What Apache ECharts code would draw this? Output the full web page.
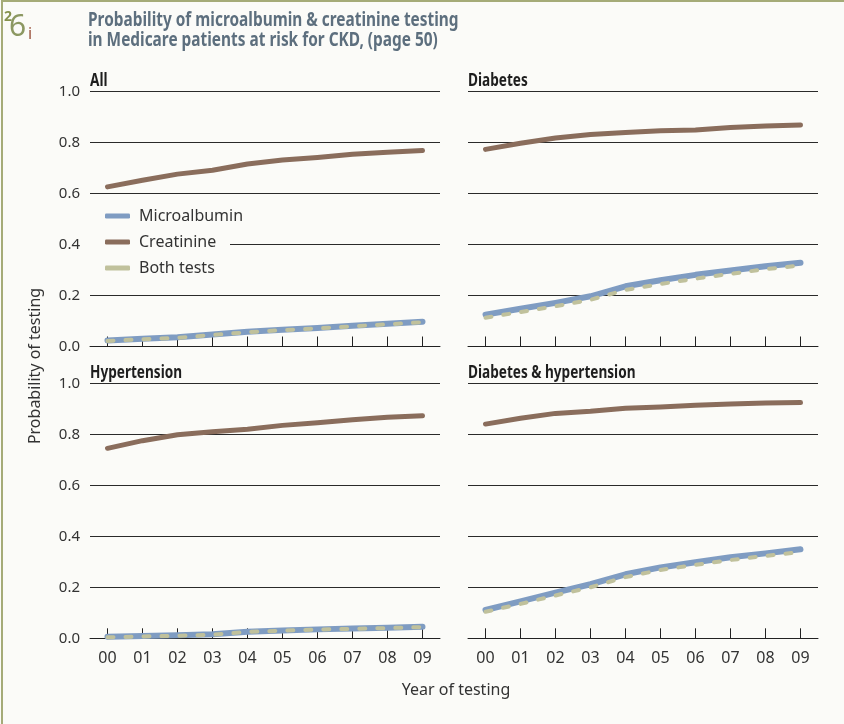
<!DOCTYPE html>
<html>
<head>
<meta charset="utf-8">
<script src="https://cdn.jsdelivr.net/npm/echarts@6/dist/echarts.min.js"></script>
<style>
  html, body { margin: 0; padding: 0; background: #fbfbf8; }
  #chart { width: 844px; height: 724px; }
</style>
</head>
<body>
<div id="chart"></div>
<script>
// Years of testing (2000-2009)
const years = ['00', '01', '02', '03', '04', '05', '06', '07', '08', '09'];

// Panel: All
const allMicro = [0.024, 0.030, 0.036, 0.047, 0.058, 0.066, 0.073, 0.081, 0.089, 0.097];
const allCreat = [0.626, 0.652, 0.676, 0.691, 0.716, 0.731, 0.741, 0.754, 0.762, 0.769];
const allBoth  = [0.022, 0.028, 0.034, 0.045, 0.056, 0.064, 0.071, 0.079, 0.087, 0.095];

// Panel: Diabetes
const diabMicro = [0.125, 0.148, 0.171, 0.197, 0.236, 0.260, 0.281, 0.298, 0.315, 0.328];
const diabCreat = [0.773, 0.797, 0.818, 0.831, 0.839, 0.846, 0.849, 0.859, 0.865, 0.869];
const diabBoth  = [0.113, 0.135, 0.158, 0.183, 0.222, 0.245, 0.266, 0.285, 0.303, 0.318];

// Panel: Hypertension
const htnMicro = [0.006, 0.009, 0.012, 0.016, 0.026, 0.031, 0.035, 0.038, 0.041, 0.045];
const htnCreat = [0.745, 0.775, 0.798, 0.810, 0.820, 0.835, 0.845, 0.857, 0.867, 0.873];
const htnBoth  = [0.004, 0.007, 0.010, 0.014, 0.025, 0.030, 0.034, 0.037, 0.040, 0.044];

// Panel: Diabetes & hypertension
const dhMicro = [0.111, 0.145, 0.179, 0.212, 0.251, 0.278, 0.298, 0.318, 0.333, 0.349];
const dhCreat = [0.840, 0.863, 0.882, 0.890, 0.902, 0.907, 0.914, 0.919, 0.923, 0.925];
const dhBoth  = [0.104, 0.135, 0.168, 0.200, 0.240, 0.268, 0.288, 0.307, 0.323, 0.338];

const panelTitles = ['All', 'Diabetes', 'Hypertension', 'Diabetes & hypertension'];
const seriesNames = ['Microalbumin', 'Creatinine', 'Both tests'];

const panels = [
  { micro: allMicro,  creat: allCreat,  both: allBoth },
  { micro: diabMicro, creat: diabCreat, both: diabBoth },
  { micro: htnMicro,  creat: htnCreat,  both: htnBoth },
  { micro: dhMicro,   creat: dhCreat,   both: dhBoth }
];

const BG = '#fbfbf8';
const BLUE = '#7f9cc2';
const BROWN = '#8a6d5c';
const KHAKI = '#c0c19c';
const OLIVE = '#a5ab78';
const BODY_FONT = '"Noto Sans", "Open Sans", sans-serif';

const gridBoxes = [
  { left: 90,  top: 91.5,  width: 350, height: 255 },
  { left: 468, top: 91.5,  width: 350, height: 255 },
  { left: 90,  top: 383.3, width: 350, height: 255 },
  { left: 468, top: 383.3, width: 350, height: 255 }
];

const grid = gridBoxes.map(g => Object.assign({ containLabel: false }, g));

const xAxis = gridBoxes.map((g, i) => ({
  type: 'category',
  gridIndex: i,
  data: years,
  boundaryGap: true,
  axisLine: { show: true, onZero: false, lineStyle: { color: '#222', width: 1 } },
  axisTick: { show: true, inside: true, length: 10, alignWithLabel: true, lineStyle: { color: '#222', width: 1 } },
  axisLabel: {
    show: i >= 2,
    margin: 12,
    fontFamily: BODY_FONT,
    fontSize: 16,
    color: '#333'
  },
  splitLine: { show: false }
}));

const yAxis = gridBoxes.map((g, i) => ({
  type: 'value',
  gridIndex: i,
  min: 0,
  max: 1,
  interval: 0.2,
  axisLine: { show: false },
  axisTick: { show: false },
  axisLabel: {
    show: i % 2 === 0,
    margin: 10,
    fontFamily: BODY_FONT,
    fontSize: 15,
    color: '#333',
    formatter: v => v.toFixed(1)
  },
  splitLine: { show: true, lineStyle: { color: '#2a2a2a', width: 1 } }
}));

const series = [];
panels.forEach((p, i) => {
  series.push({
    name: seriesNames[0], type: 'line', xAxisIndex: i, yAxisIndex: i,
    data: p.micro, symbol: 'none', color: BLUE, z: 3,
    lineStyle: { color: BLUE, width: 6, cap: 'round', join: 'round' }
  });
  series.push({
    name: seriesNames[1], type: 'line', xAxisIndex: i, yAxisIndex: i,
    data: p.creat, symbol: 'none', color: BROWN, z: 3,
    lineStyle: { color: BROWN, width: 5, cap: 'round', join: 'round' }
  });
  series.push({
    name: seriesNames[2], type: 'line', xAxisIndex: i, yAxisIndex: i,
    data: p.both, symbol: 'none', color: KHAKI, z: 4,
    lineStyle: { color: KHAKI, width: 4, type: [6, 12], cap: 'round', join: 'round' }
  });
});

// Panel headings: bold, horizontally condensed, sitting just above the top gridline
const panelTitleGraphics = panelTitles.map((t, i) => ({
  type: 'text',
  x: gridBoxes[i].left,
  y: gridBoxes[i].top - 2,
  scaleX: 0.8,
  style: { text: t, font: 'bold 17px ' + BODY_FONT, fill: '#1e1e1e', verticalAlign: 'bottom' },
  z: 10
}));

const option = {
  backgroundColor: BG,
  animation: false,
  grid: grid,
  xAxis: xAxis,
  yAxis: yAxis,
  legend: {
    orient: 'vertical',
    left: 95,
    top: 202,
    padding: [6, 10, 6, 10],
    itemWidth: 25,
    itemHeight: 5,
    itemGap: 10,
    icon: 'roundRect',
    data: seriesNames,
    textStyle: { fontFamily: BODY_FONT, fontSize: 16, color: '#333', padding: [0, 0, 0, 4] },
    selectedMode: false
  },
  series: series,
  graphic: [
    // frame lines along the top and left edge
    { type: 'line', shape: { x1: 2, y1: 1, x2: 844, y2: 1 }, style: { stroke: OLIVE, lineWidth: 2 }, silent: true },
    { type: 'line', shape: { x1: 2, y1: 0, x2: 2, y2: 724 }, style: { stroke: OLIVE, lineWidth: 2 }, silent: true },
    // clear strip behind the legend rows so the 0.4 gridline starts after the labels
    { type: 'rect', shape: { x: 90, y: 236, width: 140, height: 14 }, style: { fill: BG }, z: 1, silent: true },
    // section marker
    { type: 'text', x: 4, y: 10, style: { text: '2', font: 'bold 14px ' + BODY_FONT, fill: '#86924f' } },
    { type: 'text', x: 9, y: 12, style: { text: '6', font: '30px ' + BODY_FONT, fill: '#8c9862' } },
    { type: 'text', x: 28, y: 26, style: { text: 'i', font: '16px ' + BODY_FONT, fill: '#9c5640' } },
    // chart title, condensed horizontally
    {
      type: 'text', x: 88, y: 10, scaleX: 0.77,
      style: {
        text: 'Probability of microalbumin & creatinine testing\nin Medicare patients at risk for CKD, (page 50)',
        font: 'bold 20px ' + BODY_FONT, fill: '#5d6f7e', lineHeight: 20
      }
    },
    // axis names
    {
      type: 'text', x: 35, y: 366, rotation: Math.PI / 2,
      style: { text: 'Probability of testing', font: '16px ' + BODY_FONT, fill: '#333', align: 'center', verticalAlign: 'middle' }
    },
    {
      type: 'text', x: 456, y: 690,
      style: { text: 'Year of testing', font: '16px ' + BODY_FONT, fill: '#333', align: 'center', verticalAlign: 'middle' }
    }
  ].concat(panelTitleGraphics)
};

const chart = echarts.init(document.getElementById('chart'), null, { renderer: 'canvas' });
chart.setOption(option);
</script>
</body>
</html>
